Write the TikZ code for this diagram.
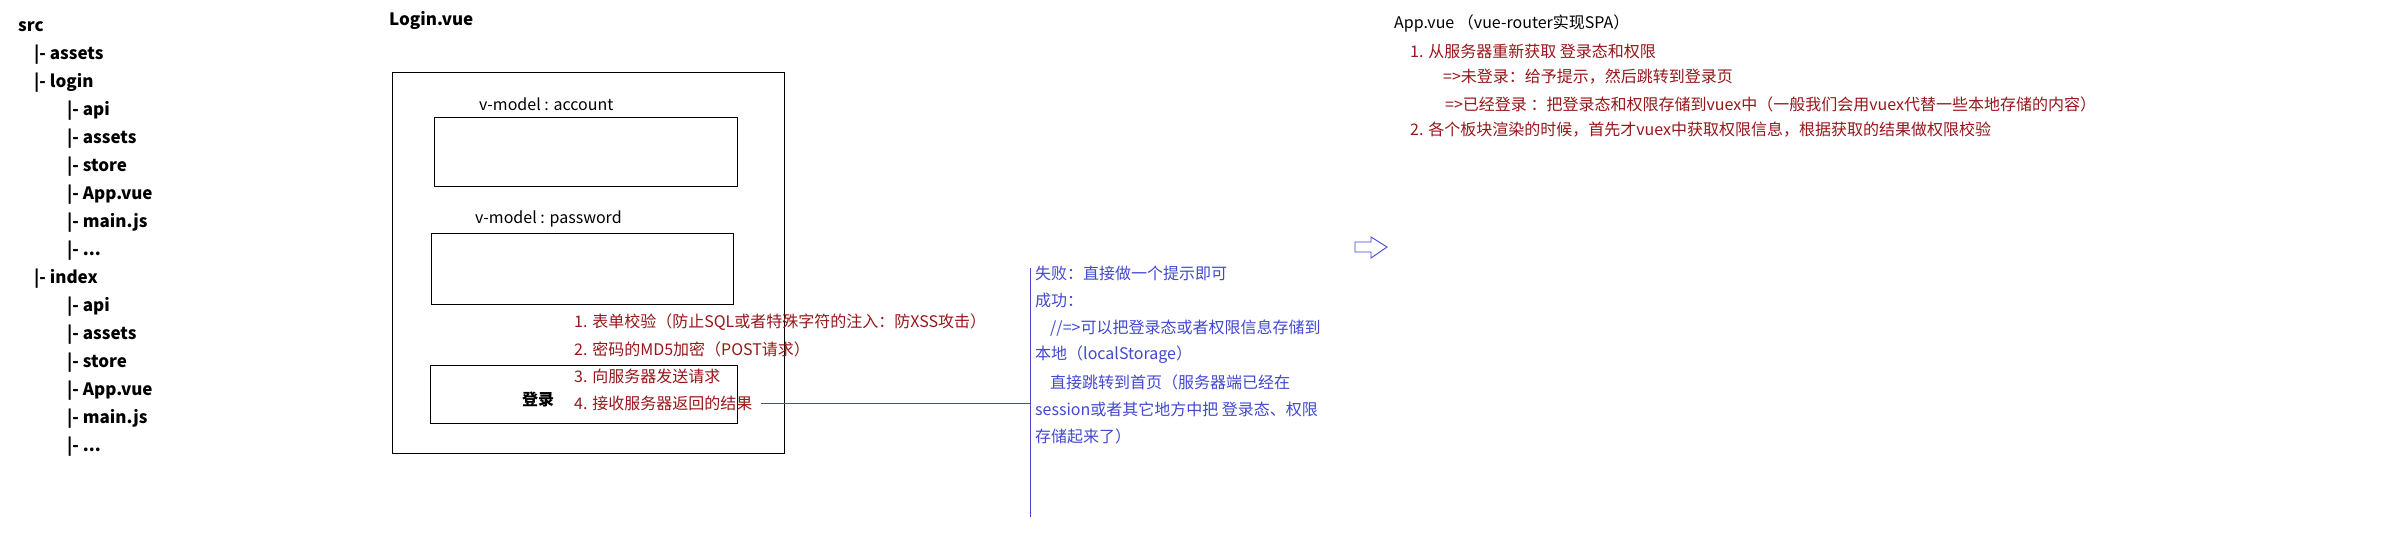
\documentclass[tikz,border=0pt]{standalone}
\usepackage{fontspec}
\setmainfont{Noto Sans CJK SC}
\newcommand{\treedots}{...}

\begin{document}
\begin{tikzpicture}[
    x=1pt, y=-1pt,
    txt/.style={anchor=west, inner sep=0pt, font=\fontsize{16}{19}\selectfont},
    tree/.style={txt, font=\fontsize{17}{20}\selectfont\bfseries},
    note/.style={txt, text=NoteRed},
    reply/.style={txt, text=ReplyBlue},
    frame/.style={draw=black, line width=1pt},
    link/.style={draw=ReplyBlue, line width=0.9pt},
]
    \definecolor{NoteRed}{RGB}{150,22,26}
    \definecolor{ReplyBlue}{RGB}{66,72,208}

    \useasboundingbox (0,0) rectangle (2406,536);

    % Source tree
    \node[tree] (src) at (18,27) {src};
    \foreach \i/\x/\name in {1/34/assets, 2/34/login, 3/67/api, 4/67/assets,
        5/67/store, 6/67/App.vue, 7/67/main.js, 8/67/\treedots, 9/34/index,
        10/67/api, 11/67/assets, 12/67/store, 13/67/App.vue, 14/67/main.js,
        15/67/\treedots} {
        \node[tree] (tree\i) at (\x,27+28*\i) {|- \name};
    }

    % Login.vue form
    \node[tree] (loginvue) at (389,20) {Login.vue};
    \draw[frame] (392,72) rectangle (784,453);
    \node[txt] (acclabel) at (479,104) {v-model : account};
    \draw[frame] (434,117) rectangle (737,186);
    \node[txt] (pwdlabel) at (475,219) {v-model : password};
    \draw[frame] (431,233) rectangle (733,304);
    \draw[frame] (430,365) rectangle (737,423);
    \node[txt, font=\fontsize{16}{19}\selectfont\bfseries] (loginbtn) at (522,399) {登录};

    % Login steps
    \foreach \i/\step in {1/{1. 表单校验（防止SQL或者特殊字符的注入：防XSS攻击）},
        2/{2. 密码的MD5加密（POST请求）}, 3/{3. 向服务器发送请求},
        4/{4. 接收服务器返回的结果}} {
        \node[note] (step\i) at (574,295+27*\i) {\step};
    }

    % Server reply
    \coordinate (bartop) at (1030,268);
    \coordinate (barbot) at (1030,517);
    \draw[link] (bartop) -- (barbot);
    \draw[link, shorten <=8pt] (step4.east) -- (step4.east -| bartop);
    \node[reply] (res1) at (1035,273) {失败：直接做一个提示即可};
    \node[reply] (res2) at (1035,300) {成功：};
    \node[reply] (res3) at (1050,328) {//=>可以把登录态或者权限信息存储到};
    \node[reply] (res4) at (1035,355) {本地（localStorage）};
    \node[reply] (res5) at (1050,382) {直接跳转到首页（服务器端已经在};
    \node[reply] (res6) at (1035,409) {session或者其它地方中把 登录态、权限};
    \node[reply] (res7) at (1035,436) {存储起来了）};

    % Block arrow
    \draw[link] (1355,242) -- (1371,242) -- (1371,237) -- (1387,247)
        -- (1371,258) -- (1371,252) -- (1355,252) -- cycle;

    % App.vue
    \node[txt] (appvue) at (1394,23) {App.vue （vue-router实现SPA）};
    \node[note] (app1) at (1410,51) {1. 从服务器重新获取 登录态和权限};
    \node[note] (app2) at (1443,77) {=>未登录：给予提示，然后跳转到登录页};
    \node[note] (app3) at (1445,104) {=>已经登录 ：把登录态和权限存储到vuex中（一般我们会用vuex代替一些本地存储的内容）};
    \node[note] (app4) at (1410,130) {2. 各个板块渲染的时候，首先才vuex中获取权限信息，根据获取的结果做权限校验};
\end{tikzpicture}
\end{document}
